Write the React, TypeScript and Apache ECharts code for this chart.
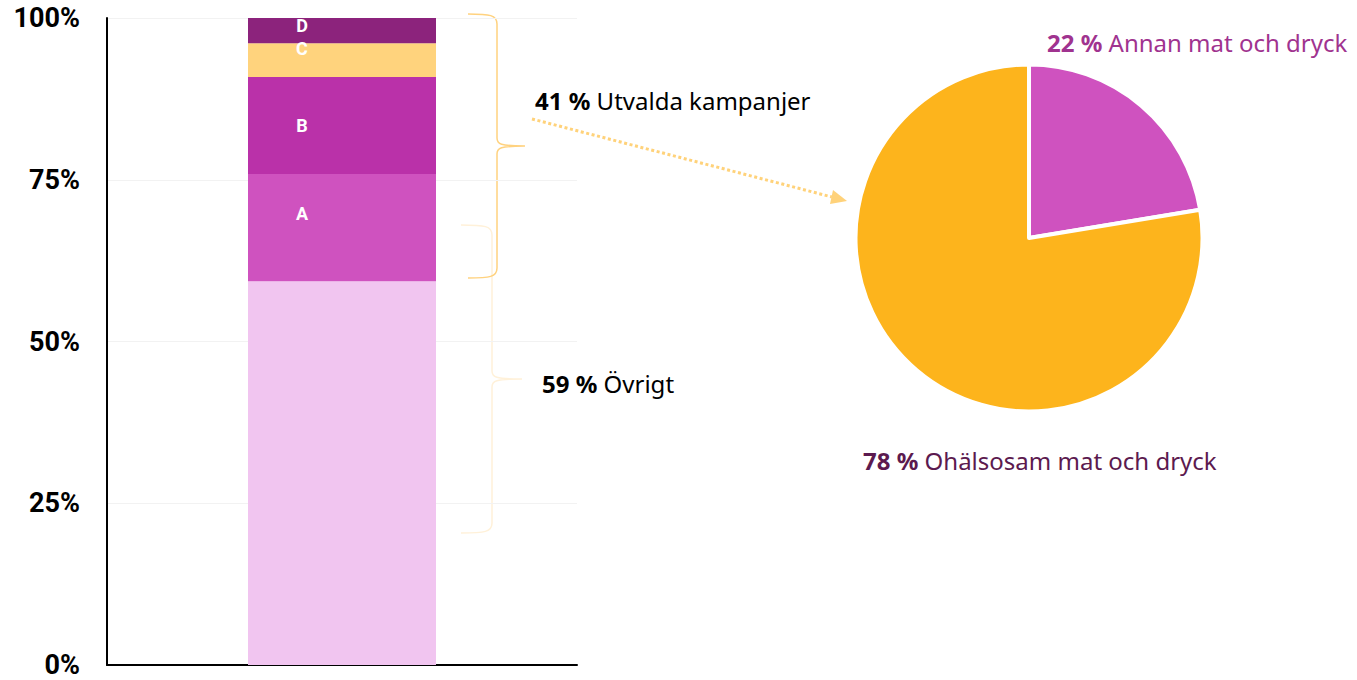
import React, { useEffect, useRef } from "react";
import * as echarts from "echarts";

const categories = [""];
const ovrigt = [59.3];
const kampanjA = [16.6];
const kampanjB = [15.0];
const kampanjC = [5.2];
const kampanjD = [3.9];
const segmentLabels = ["", "A", "B", "C", "D"];
const yMin = 0;
const yMax = 100;
const yInterval = 25;
const pieNames = ["Annan mat och dryck", "Ohälsosam mat och dryck"];
const pieValues = [22.4, 77.6];

const BIG_BRACE =
  "M468,14 C490,14 497,15 497,24 L497,138 C497,144 500,146 525,146 C500,146 497,148 497,154 L497,268 C497,277 490,278 468,278";
const FAINT_BRACE =
  "M461,225 C485,225 492,226 492,235 L492,371 C492,377 495,379 522,379 C495,379 492,381 492,387 L492,523 C492,532 485,533 461,533";

export default function App() {
  const ref = useRef<HTMLDivElement>(null);
  useEffect(() => {
    if (!ref.current) return;
    echarts.graphic.registerShape("bigBrace", echarts.graphic.extendPath(BIG_BRACE, {}));
    echarts.graphic.registerShape("faintBrace", echarts.graphic.extendPath(FAINT_BRACE, {}));
    const chart = echarts.init(ref.current, null, { renderer: "svg" });
    const campaigns = kampanjA[0] + kampanjB[0] + kampanjC[0] + kampanjD[0];
    const other = ovrigt[0];
    const textFont = "'Noto Sans', sans-serif";
    const segs = [
      { name: "Övrigt", data: ovrigt, color: "#F1C5F0", label: segmentLabels[0], offset: [0, 0] },
      { name: "A", data: kampanjA, color: "#CF52BF", label: segmentLabels[1], offset: [-40, -14] },
      { name: "B", data: kampanjB, color: "#BA31A9", label: segmentLabels[2], offset: [-40, 0] },
      { name: "C", data: kampanjC, color: "#FFD37D", label: segmentLabels[3], offset: [-40, -12] },
      { name: "D", data: kampanjD, color: "#8C237C", label: segmentLabels[4], offset: [-40, -5] },
    ];
    const barSeries = segs.map((s) => ({
      type: "bar",
      name: s.name,
      stack: "total",
      data: s.data,
      barWidth: "40%",
      silent: true,
      itemStyle: { color: s.color },
      label: {
        show: s.label !== "",
        formatter: s.label,
        position: "inside",
        offset: s.offset,
        color: "#ffffff",
        fontWeight: "bold",
        fontSize: 18,
        fontFamily: "Roboto, sans-serif",
      },
    }));
    const pieColors = ["#CF52BF", "#FDB41C"];
    const richLabel = (x: number, y: number, value: number, name: string, color: string) => ({
      type: "text",
      x,
      y,
      silent: true,
      style: {
        text: `{b|${Math.round(value)} %} ${name}`,
        fill: color,
        fontSize: 24,
        fontFamily: textFont,
        verticalAlign: "middle",
        rich: { b: { fontWeight: "bold", fontSize: 24, fontFamily: textFont, fill: color } },
      },
    });
    chart.setOption({
      animation: false,
      grid: { left: 107, right: 780, top: 18, bottom: 15, containLabel: false },
      xAxis: {
        type: "category",
        data: categories,
        axisLine: { show: true, lineStyle: { color: "#000", width: 2 } },
        axisTick: { show: false },
        axisLabel: { show: false },
      },
      yAxis: {
        type: "value",
        min: yMin,
        max: yMax,
        interval: yInterval,
        axisLine: { show: true, lineStyle: { color: "#000", width: 2 } },
        axisTick: { show: false },
        axisLabel: {
          formatter: "{value}%",
          color: "#000",
          fontWeight: "bold",
          fontSize: 27,
          fontFamily: "Roboto, sans-serif",
          margin: 27,
        },
        splitLine: { show: true, lineStyle: { color: "#F2F2F2", width: 1 } },
      },
      series: [
        ...barSeries,
        {
          type: "pie",
          center: [1029, 238],
          radius: 173.5,
          startAngle: 90,
          clockwise: true,
          silent: true,
          label: { show: false },
          labelLine: { show: false },
          itemStyle: { borderColor: "#ffffff", borderWidth: 4 },
          data: pieNames.map((n, i) => ({ name: n, value: pieValues[i], itemStyle: { color: pieColors[i] } })),
        },
      ],
      graphic: [
        { type: "faintBrace", x: 0, y: 0, silent: true, style: { fill: "none", stroke: "#FFF1D9", lineWidth: 1.5 } },
        { type: "bigBrace", x: 0, y: 0, silent: true, style: { fill: "none", stroke: "#FFD27F", lineWidth: 1.5 } },
        {
          type: "line",
          silent: true,
          shape: { x1: 532, y1: 119, x2: 832, y2: 197 },
          style: { stroke: "#FFD27A", lineWidth: 3, lineDash: [3, 2.6] },
        },
        {
          type: "polygon",
          silent: true,
          shape: { points: [[833, 190], [847, 201], [830, 204]] },
          style: { fill: "#FFD27A" },
        },
        richLabel(535, 100, campaigns, "Utvalda kampanjer", "#000"),
        richLabel(542, 383, other, "Övrigt", "#000"),
        richLabel(1047, 42, pieValues[0], pieNames[0], "#A0338F"),
        richLabel(863, 460, pieValues[1], pieNames[1], "#5C1A4F"),
      ],
    });
    return () => chart.dispose();
  }, []);
  return (
    <div
      ref={ref}
      style={{ position: "fixed", left: 0, top: 0, width: "1357px", height: "680px", background: "#fff" }}
    />
  );
}
